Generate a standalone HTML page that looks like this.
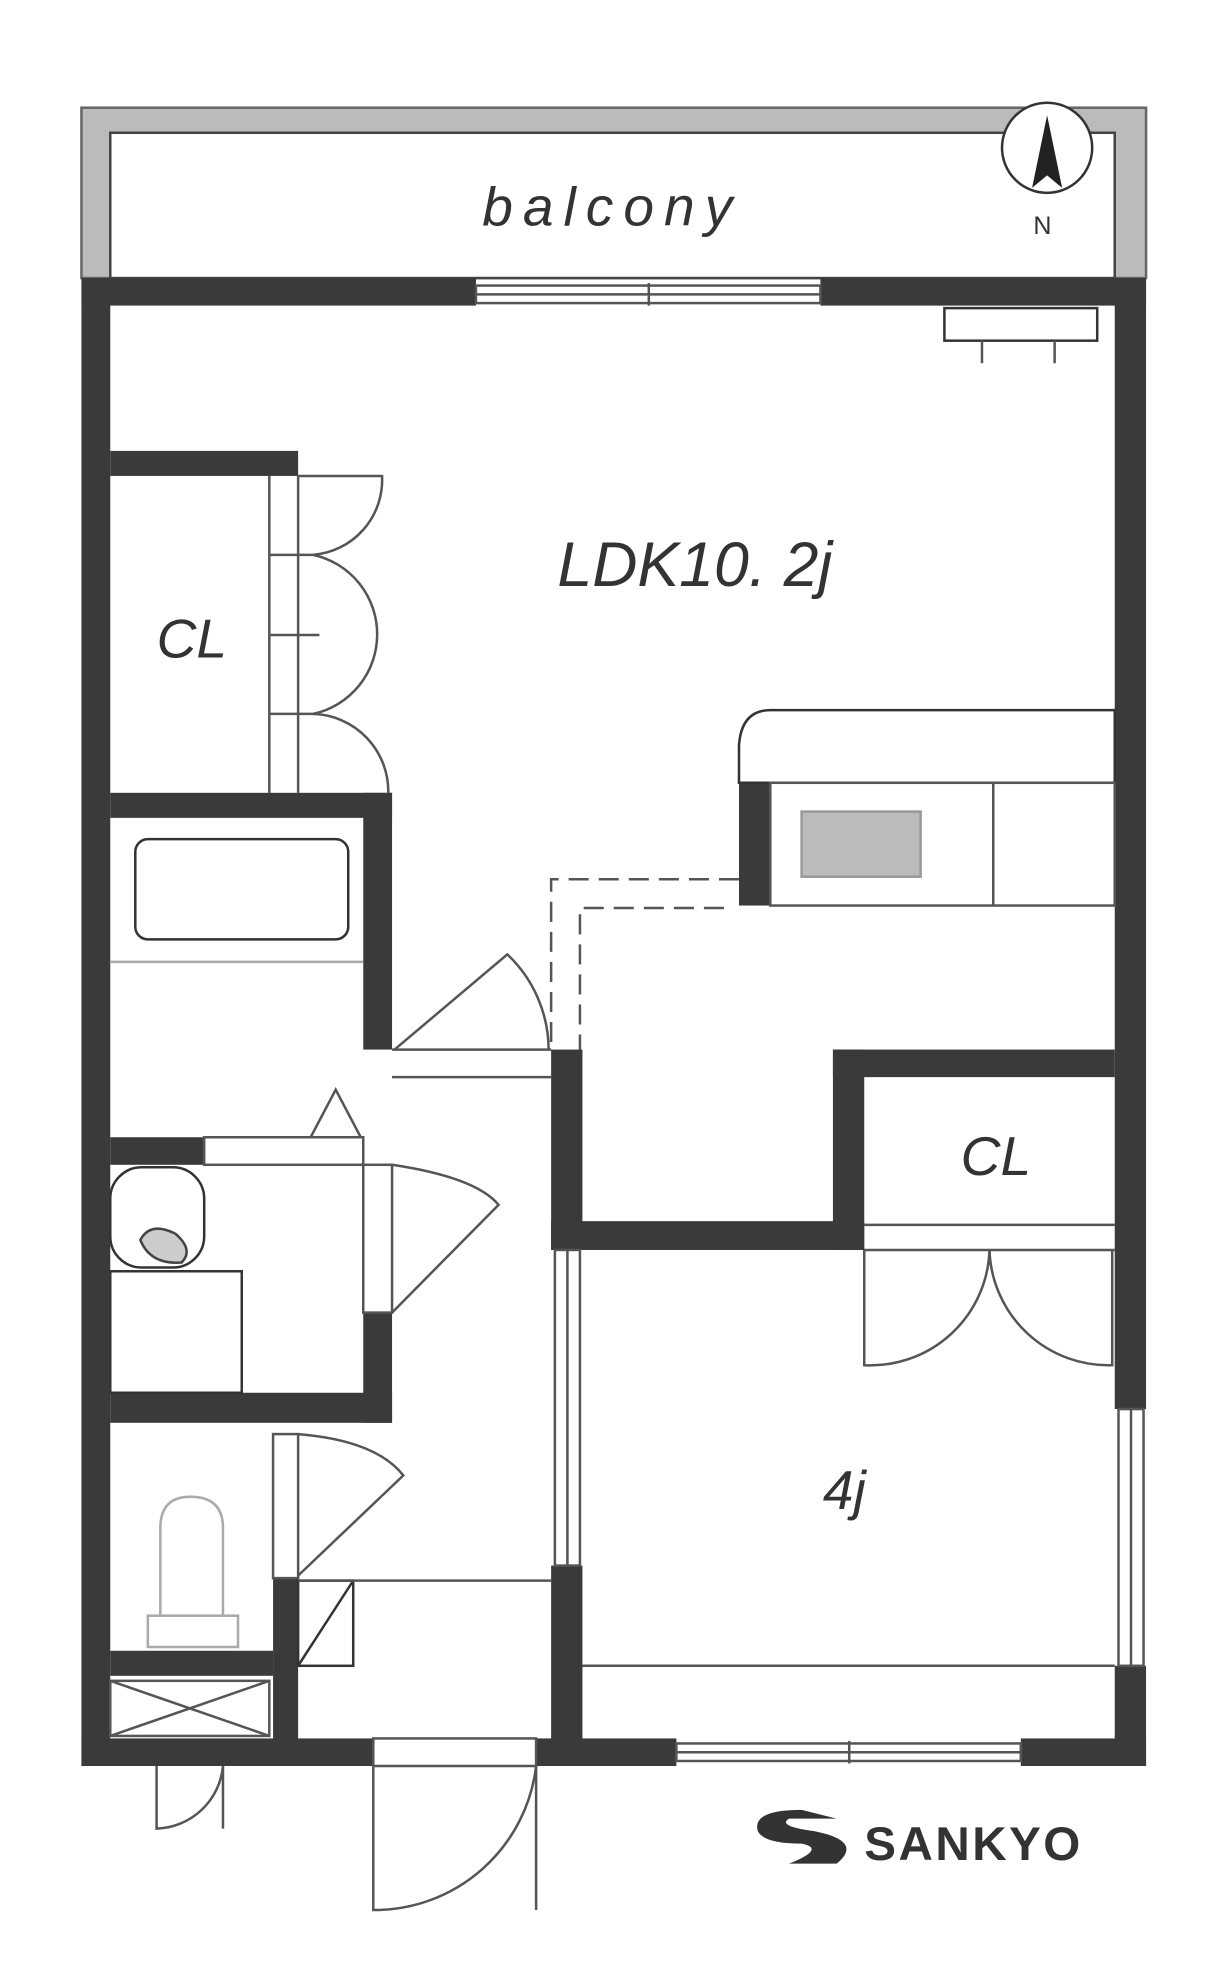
<!DOCTYPE html>
<html><head><meta charset="utf-8"><style>
html,body{margin:0;padding:0;background:#fff;}
svg{display:block;}
text{font-family:"Liberation Sans",sans-serif;font-style:italic;fill:#333;}
</style></head><body>
<svg width="1230" height="1962" viewBox="0 0 982 1566.5" xmlns="http://www.w3.org/2000/svg">
<g fill="none" stroke="#555" stroke-width="2">
<rect x="65" y="86" width="850" height="136" fill="#bbb" stroke="#666"/>
<rect x="88" y="106" width="802" height="116" fill="#fff" stroke="#444"/>
</g>
<text x="385" y="180" font-size="44" letter-spacing="8">balcony</text>
<circle cx="836" cy="118" r="36" fill="#fff" stroke="#333" stroke-width="2"/>
<polygon points="836,92 848,150 836,140 824,150" fill="#222"/>
<text x="825" y="187" font-size="20" style="font-style:normal">N</text>

<g fill="#3a3a3a">
<rect x="65" y="222" width="315" height="22"/>
<rect x="655" y="222" width="260" height="22"/>
<rect x="65" y="222" width="23" height="1188"/>
<rect x="890" y="222" width="25" height="903"/>
<rect x="890" y="1330" width="25" height="80"/>
<rect x="65" y="1388" width="233" height="22"/>
<rect x="428" y="1388" width="112" height="22"/>
<rect x="815" y="1388" width="100" height="22"/>
<rect x="88" y="360" width="150" height="20"/>
<rect x="88" y="633" width="225" height="20"/>
<rect x="290" y="633" width="23" height="205"/>
<rect x="290" y="1048" width="23" height="88"/>
<rect x="88" y="908" width="75" height="22"/>
<rect x="88" y="1112" width="225" height="24"/>
<rect x="88" y="1318" width="130" height="20"/>
<rect x="218" y="1260" width="20" height="150"/>
<rect x="440" y="838" width="25" height="160"/>
<rect x="440" y="975" width="250" height="23"/>
<rect x="665" y="838" width="25" height="160"/>
<rect x="665" y="838" width="225" height="22"/>
<rect x="440" y="1250" width="25" height="150"/>
<rect x="590" y="625" width="25" height="98"/>
</g>

<g fill="none" stroke="#555" stroke-width="2">
<rect x="380" y="228" width="275" height="14"/>
<line x1="380" y1="235" x2="655" y2="235"/>
<line x1="518" y1="226" x2="518" y2="244"/>
<rect x="540" y="1392" width="275" height="14"/>
<line x1="540" y1="1399" x2="815" y2="1399"/>
<line x1="678" y1="1390" x2="678" y2="1408"/>
<rect x="893" y="1125" width="20" height="205"/>
<line x1="903" y1="1125" x2="903" y2="1330"/>
<rect x="754" y="246" width="122" height="26" stroke="#333"/>
<line x1="784" y1="272" x2="784" y2="290"/><line x1="842" y1="272" x2="842" y2="290"/>
<line x1="215" y1="380" x2="215" y2="633"/><line x1="238" y1="380" x2="238" y2="633"/>
<line x1="215" y1="443" x2="255" y2="443"/><line x1="215" y1="507" x2="255" y2="507"/><line x1="215" y1="570" x2="255" y2="570"/>
<path d="M238,380 L305,380 A60,60 0 0 1 250,443"/>
<path d="M250,443 A65,65 0 0 1 250,570"/>
<path d="M250,570 A62,62 0 0 1 310,633"/>
<path d="M615,567 L890,567 L890,625 L590,625 L590,595 Q592,567 615,567 Z" stroke="#333"/>
<rect x="615" y="625" width="275" height="98"/>
<line x1="793" y1="625" x2="793" y2="723"/>
<rect x="640" y="648" width="95" height="52" fill="#bbb" stroke="#999"/>
<g stroke-dasharray="16,8">
<path d="M590,702 L440,702 L440,838"/>
<path d="M578,725 L463,725 L463,838"/>
</g>
<rect x="108" y="670" width="170" height="80" rx="10" stroke="#333"/>
<line x1="88" y1="768" x2="290" y2="768" stroke="#aaa"/>
<path d="M248,908 L268,870 L288,908"/>
<rect x="163" y="908" width="127" height="22"/>
<line x1="313" y1="838" x2="440" y2="838"/><line x1="313" y1="860" x2="440" y2="860"/>
<path d="M315,838 L405,762 A105,105 0 0 1 438,838"/>
<rect x="290" y="930" width="23" height="118"/>
<path d="M313,930 Q380,940 398,962 L313,1048"/>
<rect x="88" y="932" width="75" height="80" rx="25" stroke="#333"/>
<rect x="88" y="1015" width="105" height="97" stroke="#333"/>
<path d="M128,1290 L128,1220 Q128,1195 152,1195 Q178,1195 178,1220 L178,1290" stroke="#aaa"/>
<rect x="118" y="1290" width="72" height="25" stroke="#aaa"/>
<rect x="218" y="1145" width="20" height="115"/>
<path d="M238,1145 Q300,1150 322,1178 L238,1258"/>
<rect x="238" y="1262" width="44" height="68" stroke="#333"/>
<line x1="238" y1="1330" x2="282" y2="1262" stroke="#333"/>
<line x1="238" y1="1262" x2="440" y2="1262"/>
<rect x="88" y="1342" width="127" height="44"/>
<line x1="88" y1="1342" x2="215" y2="1386"/><line x1="88" y1="1386" x2="215" y2="1342"/>
<path d="M125,1410 L125,1460 A55,55 0 0 0 178,1410"/>
<line x1="178" y1="1410" x2="178" y2="1460"/>
<rect x="298" y="1388" width="130" height="22"/>
<path d="M298,1410 L298,1525 A130,130 0 0 0 428,1410"/>
<line x1="428" y1="1410" x2="428" y2="1525"/>
<rect x="443" y="998" width="20" height="252"/>
<line x1="453" y1="998" x2="453" y2="1250"/>
<line x1="465" y1="1330" x2="890" y2="1330"/>
<line x1="690" y1="978" x2="890" y2="978"/><line x1="690" y1="998" x2="890" y2="998"/>
<path d="M690,998 L690,1090 A95,95 0 0 0 790,998"/>
<path d="M790,998 A95,95 0 0 0 888,1090 L888,998"/>
</g>
<g stroke="#444" stroke-width="2"><path d="M112,990 Q120,975 140,985 Q155,998 145,1008 Q120,1010 112,990Z" fill="#ccc"/></g>

<text x="445" y="468" font-size="50">LDK10. 2j</text>
<text x="125" y="525" font-size="44">CL</text>
<text x="767" y="938" font-size="44">CL</text>
<text x="657" y="1205" font-size="44">4j</text>

<path d="M640,1445 Q600,1445 605,1462 Q610,1472 640,1472 Q660,1476 630,1488 L668,1488 Q690,1470 650,1462 Q620,1458 630,1452 L668,1452 Z" fill="#333"/>
<text x="690" y="1485" font-size="38" font-weight="bold" style="font-style:normal" letter-spacing="2">SANKYO</text>
</svg>
</body></html>
